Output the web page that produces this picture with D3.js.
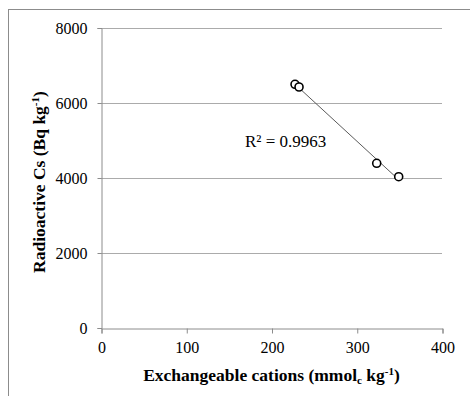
<!DOCTYPE html>
<html><head><meta charset="utf-8">
<script src="https://cdn.jsdelivr.net/npm/d3@7"></script>
<style>
body{margin:0;background:#fff;}
svg{display:block;}
text{font-family:"Liberation Serif","Times New Roman",serif;fill:#000;}
</style></head>
<body>
<svg id="chart" width="470" height="396"></svg>
<script>
// Data
const cations = [227.6, 232.3, 323.4, 349.2];          // Exchangeable cations (mmolc kg-1)
const cesium  = [6485, 6413, 4379, 4021];              // Radioactive Cs (Bq kg-1)
const xTicks = [0, 100, 200, 300, 400];
const yTicks = [0, 2000, 4000, 6000, 8000];
const r2Label = "R² = 0.9963";

const svg = d3.select("#chart");

// outer frame (cut at right/bottom edges)
svg.append("rect").attr("x", 8.5).attr("y", 9.5).attr("width", 480).attr("height", 400)
  .attr("fill", "none").attr("stroke", "#8c8c8c").attr("stroke-width", 1);

const x = d3.scaleLinear().domain([0, 400]).range([101, 442]);
const y = d3.scaleLinear().domain([0, 8000]).range([327.5, 27.5]);

// gridlines
svg.append("g").selectAll("line").data(yTicks.filter(d => d > 0)).join("line")
  .attr("x1", x(0)).attr("x2", x(400))
  .attr("y1", d => Math.round(y(d)) + 0.5).attr("y2", d => Math.round(y(d)) + 0.5)
  .attr("stroke", "#ababab").attr("stroke-width", 1);

// y axis
const yAxis = d3.axisLeft(y).tickValues(yTicks).tickSize(4).tickPadding(10).tickFormat(d3.format("d"));
const gy = svg.append("g").attr("transform", `translate(${Math.round(x(0)) + 0.5},0.5)`).call(yAxis);
gy.select(".domain").attr("stroke", "#8c8c8c");
gy.selectAll(".tick line").attr("stroke", "#8c8c8c");
gy.selectAll(".tick text").attr("font-size", 16).attr("font-family", "Liberation Serif").attr("fill", "#000");

// x axis
const xAxis = d3.axisBottom(x).tickValues(xTicks).tickSize(5).tickPadding(8).tickFormat(d3.format("d"));
const gx = svg.append("g").attr("transform", `translate(0.5,${Math.round(y(0)) + 0.5})`).call(xAxis);
gx.select(".domain").attr("stroke", "#8c8c8c");
gx.selectAll(".tick line").attr("stroke", "#8c8c8c");
gx.selectAll(".tick text").attr("font-size", 16).attr("font-family", "Liberation Serif").attr("fill", "#000");

// linear regression trendline
const n = cations.length;
const mx = d3.mean(cations), my = d3.mean(cesium);
let sxy = 0, sxx = 0;
for (let i = 0; i < n; i++) { sxy += (cations[i]-mx)*(cesium[i]-my); sxx += (cations[i]-mx)**2; }
const slope = sxy / sxx, intercept = my - slope * mx;
const [xmin, xmax] = d3.extent(cations);
svg.append("line")
  .attr("x1", x(xmin)).attr("y1", y(intercept + slope * xmin))
  .attr("x2", x(xmax)).attr("y2", y(intercept + slope * xmax))
  .attr("stroke", "#5a5a5a").attr("stroke-width", 1);

// points
svg.append("g").selectAll("circle").data(cations.map((c, i) => [c, cesium[i]])).join("circle")
  .attr("cx", d => x(d[0])).attr("cy", d => y(d[1])).attr("r", 4)
  .attr("fill", "#fff").attr("stroke", "#000").attr("stroke-width", 1.6);

// R² label
svg.append("text").attr("x", 245).attr("y", 147).attr("font-size", 17).text(r2Label);

// x title
const xt = svg.append("text").attr("x", 271.5).attr("y", 381).attr("text-anchor", "middle")
  .attr("font-size", 17.5).attr("font-weight", "bold");
xt.append("tspan").text("Exchangeable cations (mmol");
xt.append("tspan").attr("font-size", 11).attr("dy", 3).text("c");
xt.append("tspan").attr("dy", -3).text(" kg");
xt.append("tspan").attr("font-size", 11).attr("dy", -6).text("-1");
xt.append("tspan").attr("dy", 6).text(")");

// y title
const yt = svg.append("text").attr("transform", "translate(45,182) rotate(-90)").attr("text-anchor", "middle")
  .attr("font-size", 17.5).attr("font-weight", "bold");
yt.append("tspan").text("Radioactive Cs (Bq kg");
yt.append("tspan").attr("font-size", 11).attr("dy", -6).text("-1");
yt.append("tspan").attr("dy", 6).text(")");
</script>
</body></html>
